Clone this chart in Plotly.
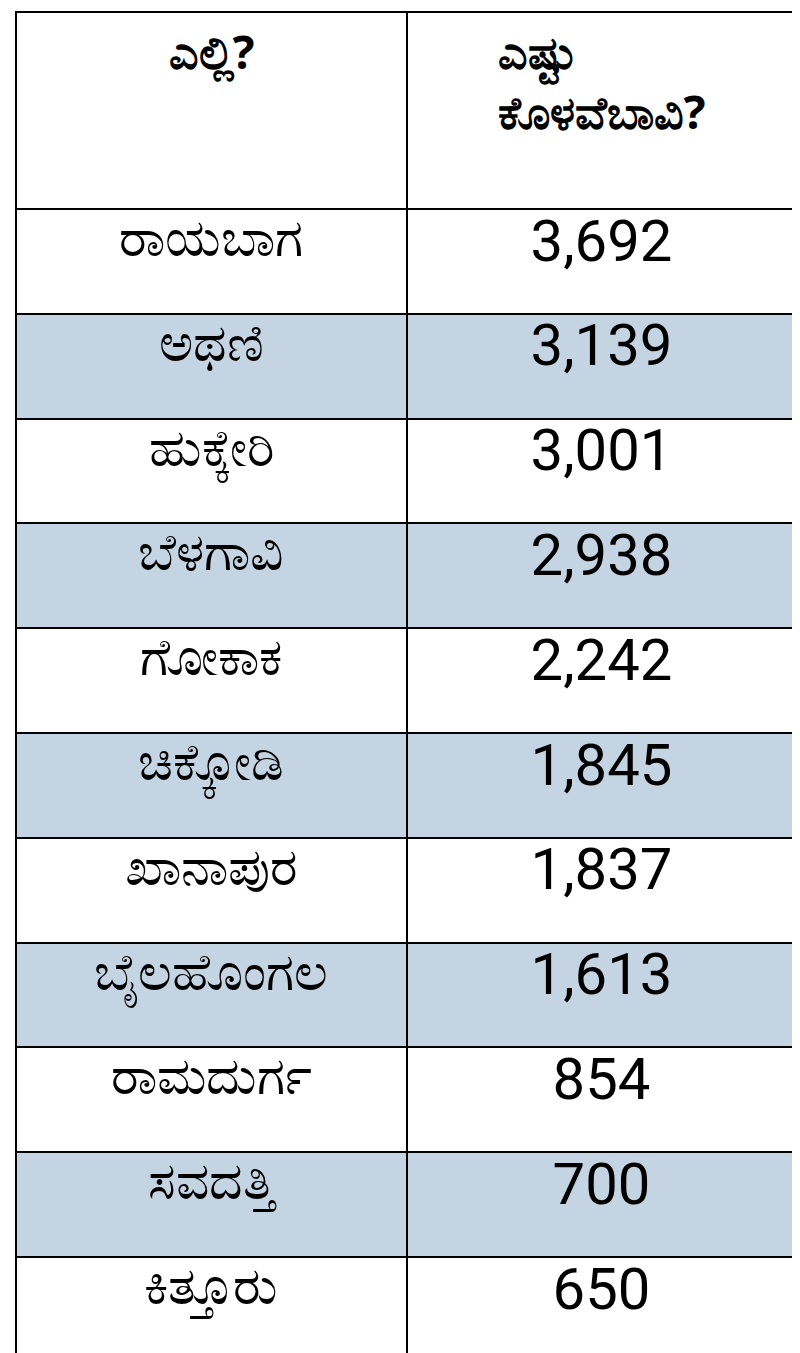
import plotly.graph_objects as go

headers = ["ಎಲ್ಲಿ?", "ಎಷ್ಟು<br>ಕೊಳವೆಬಾವಿ?"]
places = ["ರಾಯಬಾಗ", "ಅಥಣಿ", "ಹುಕ್ಕೇರಿ", "ಬೆಳಗಾವಿ", "ಗೋಕಾಕ", "ಚಿಕ್ಕೋಡಿ",
          "ಖಾನಾಪುರ", "ಬೈಲಹೊಂಗಲ", "ರಾಮದುರ್ಗ", "ಸವದತ್ತಿ", "ಕಿತ್ತೂರು"]
counts = ["3,692", "3,139", "3,001", "2,938", "2,242", "1,845",
          "1,837", "1,613", "854", "700", "650"]

fills = ["white" if i % 2 == 0 else "#c5d4e3" for i in range(len(places))]
header_text = ["<br><b>" + headers[0] + "</b>", "<b>" + headers[1] + "</b>"]

fig = go.Figure(go.Table(
    columnwidth=[392, 390],
    header=dict(values=header_text, height=197,
                fill_color="white", line=dict(color="black", width=2),
                align="center",
                font=dict(family="Noto Sans, sans-serif", size=46, color="black")),
    cells=dict(values=[places, counts], height=104.8,
               fill_color=[fills, fills], line=dict(color="black", width=2),
               align="center",
               font=dict(family=["Noto Sans, sans-serif", "Liberation Sans Narrow, Roboto, sans-serif"],
                         size=[52, 58], color="black")),
))
fig.update_layout(width=800, height=1353, margin=dict(l=8, r=12, t=4, b=0),
                  paper_bgcolor="white")
fig.write_html("out.html")
